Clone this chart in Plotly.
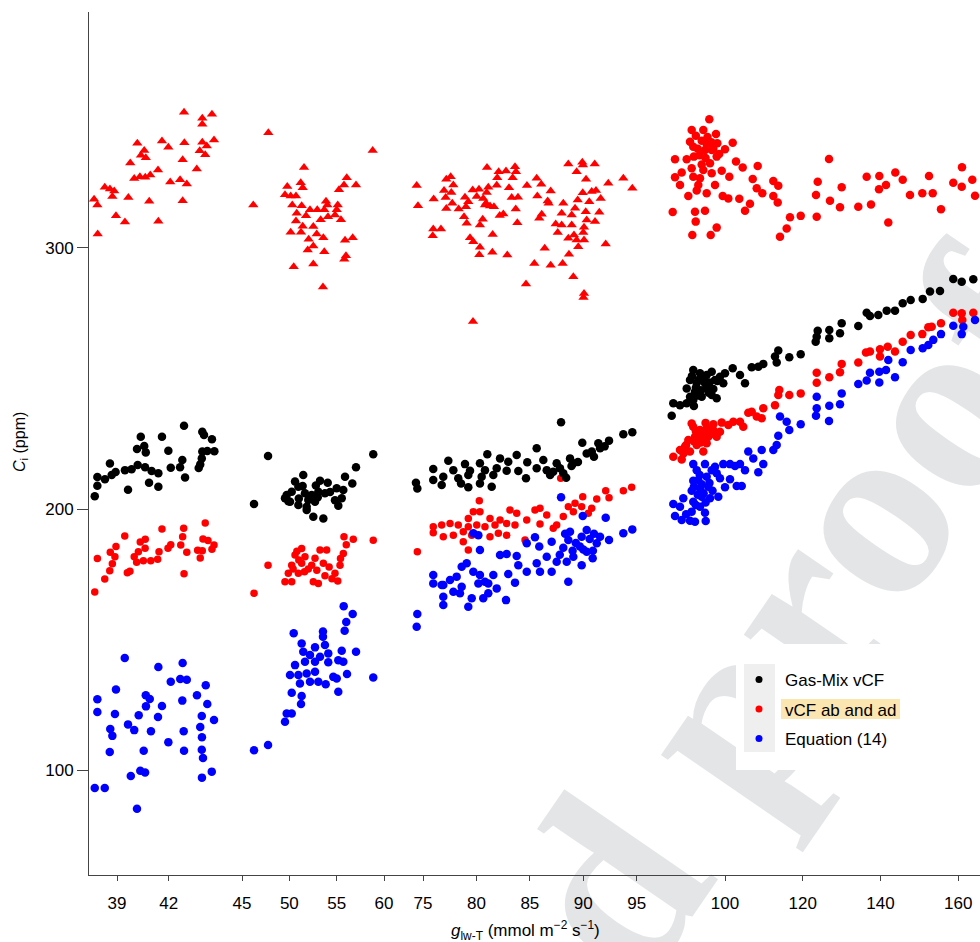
import plotly.graph_objects as go

# ---------------- data ----------------
# Gas-Mix vCF (black)
GM1_X = [42.89,40.38,41.61,43.95,44.05,44.51,40.16,40.58,40.67,41.98,43.95,44.24,44.65,42.79,43.92,38.59,39.46,39.85,40.20,40.63,41.01,41.40,42.12,42.66,43.74,43.83,37.86,38.30,38.69,38.92,42.95,37.86,39.64,40.86,41.40,37.71]
GM1_Y = [231.9,227.7,227.7,229.6,228.4,226.7,223.0,224.1,221.7,222.3,222.0,222.2,222.1,218.8,219.4,217.4,214.9,215.2,216.9,216.0,214.6,213.7,215.8,216.0,215.7,217.1,212.3,211.4,213.0,214.2,212.1,208.9,207.4,210.1,208.5,204.9]
GM2_X = [47.75,58.86,57.04,46.27,51.47,50.60,50.95,53.24,54.05,55.88,56.65,49.72,50.25,51.65,52.36,53.06,53.76,55.70,54.82,55.53,50.07,50.95,51.83,52.71,55.17,49.54,52.53,53.59,51.83,51.0,52.0,53.0,54.3,51.4,52.8,55.0,49.9]
GM2_Y = [220.3,221.0,216.0,201.9,213.0,210.5,208.5,210.8,210.1,212.4,209.8,205.4,206.6,206.0,205.4,206.6,206.0,207.3,203.4,204.1,202.8,201.5,200.9,202.8,201.3,204.1,197.0,196.4,199.6,204.0,203.5,204.5,206.5,208.8,209.0,208.0,203.0]
GM3_X = [87.92,93.75,94.59,92.41,89.91,91.41,85.64,81.02,83.77,82.21,77.37,78.93,80.33,82.98,84.76,86.26,87.51,88.76,90.32,91.57,75.96,77.84,79.40,80.80,81.90,82.83,83.92,85.64,86.58,87.82,89.07,75.96,76.90,78.30,79.24,80.49,81.58,84.64,87.19,88.13,74.34,74.47,76.75,79.24,81.43,78.56,80.33,88.9,89.5,90.8,91.0,92.0,86.9,88.4]
GM3_Y = [233.2,228.6,229.4,226.2,225.4,225.2,223.3,221.0,220.7,219.4,218.5,217.2,217.5,218.1,217.9,218.8,217.5,219.4,221.3,223.3,215.3,214.9,214.7,214.9,215.6,214.7,214.6,215.6,214.9,215.6,217.5,211.1,212.4,211.8,213.0,212.4,213.0,211.8,214.3,213.7,210.1,207.9,209.2,208.3,208.5,209.8,209.8,216.5,218.0,222.0,220.0,224.0,213.0,212.0]
GM4_X = [158.73,160.90,163.88,155.31,152.74,150.86,147.77,145.72,143.74,141.60,139.44,136.45,137.30,134.29,130.02,129.59,126.83,126.83,123.85,123.59,123.33,119.48,116.54,113.71,112.86,113.30,109.85,108.57,106.87,105.15,103.86,101.98,100.00,98.71,96.58,95.29,93.57,91.84,97.43,94.85,92.72,91.00,90.15,92.28,95.29,96.58,97.86,94.01,91.00,90.15,88.42,86.70,86.29,91.84,93.13,99.56,92.5,93.8,94.5,96.0,97.0,93.0,95.8,91.5,98.0,92.0]
GM4_Y = [288.1,287.1,288.0,283.5,283.3,280.5,280.1,278.8,276.0,276.0,274.3,275.2,273.9,270.1,271.2,267.3,268.6,265.4,268.3,266.0,264.1,259.3,258.1,260.7,258.4,256.1,255.6,254.5,254.3,248.2,251.3,253.9,252.0,250.7,252.6,251.3,252.0,253.3,249.4,248.2,248.2,249.4,246.2,244.9,246.2,243.7,242.4,243.0,243.0,240.5,239.8,240.5,235.7,241.8,249.4,248.2,246.5,245.5,250.0,248.5,246.0,243.5,244.5,251.0,249.0,239.5]

# vCF ab and ad (red circles)
VC1_X = [44.12,41.61,42.87,39.45,40.64,40.35,42.81,43.99,44.28,42.12,41.96,42.70,44.63,38.94,40.63,40.24,41.44,38.61,43.05,43.68,43.95,44.51,38.88,40.00,37.86,40.53,40.96,41.36,43.83,40.14,38.73,38.58,39.75,39.60,42.89,38.29,37.71]
VC1_Y = [194.6,192.3,192.6,189.7,188.4,187.4,189.4,188.5,187.9,186.3,185.0,186.2,186.2,185.6,185.0,183.6,183.6,183.4,183.4,184.2,184.0,184.6,181.7,181.7,181.0,180.2,180.2,180.8,181.2,179.6,179.0,176.4,176.2,175.6,175.2,173.2,168.2]
VC2_X = [55.77,56.75,58.86,56.01,47.75,46.27,51.30,53.24,53.94,50.60,51.65,52.71,55.70,50.25,51.30,52.36,53.59,55.35,49.89,50.95,53.76,54.82,49.54,50.25,52.53,53.06,55.11,51.0,52.0,51.6,50.4,52.9,54.2,50.8,55.4,54.5]
VC2_Y = [189.4,188.4,188.0,186.3,178.5,167.7,184.9,184.3,184.3,182.4,181.7,181.1,183.0,178.5,179.2,178.5,179.2,178.5,175.4,175.4,174.4,175.4,172.1,172.1,172.1,171.5,172.4,180.5,177.0,176.0,177.0,176.5,177.8,183.8,181.0,173.3]
VC3_X = [94.53,93.75,92.10,92.41,91.26,89.95,87.89,89.23,89.85,88.60,90.79,90.47,89.07,88.13,87.51,85.95,85.48,86.58,85.95,87.19,84.71,83.77,83.14,82.21,82.83,83.61,81.74,81.27,80.27,80.33,79.71,79.24,80.03,80.80,79.24,78.30,77.53,76.75,75.96,75.96,76.90,77.84,78.77,79.56,81.27,82.05,82.83,78.77,79.24,74.47,84.55]
VC3_Y = [208.3,207.0,207.0,204.3,203.8,204.7,211.8,202.2,200.9,200.9,200.3,198.4,199.0,197.1,193.9,200.3,199.6,197.7,194.3,192.6,195.8,198.4,199.6,195.8,194.5,193.9,193.9,196.4,203.2,199.0,199.0,196.4,193.9,193.2,193.2,193.9,194.5,193.9,193.2,190.9,189.4,190.0,191.3,190.0,189.4,190.7,190.0,187.5,184.3,183.6,188.1]
VC4_X = [163.88,160.90,158.73,161.05,155.57,153.18,152.30,150.76,147.77,145.72,143.74,141.86,139.88,137.30,136.27,139.88,134.29,130.02,129.59,126.83,123.59,123.59,119.48,116.54,113.97,113.71,112.86,109.85,108.16,106.87,105.99,109.44,103.86,102.14,100.85,99.15,104.71,98.71,96.99,95.29,93.57,91.84,91.43,97.86,95.70,94.01,92.28,90.56,95.29,92.72,89.71,91.00,88.42,86.70,88.86,94.42,93.0,94.6,96.2,92.0,93.8,90.0,95.0,97.0,92.5,89.3]
VC4_Y = [275.2,275.0,275.2,272.4,271.2,269.8,269.6,267.0,266.7,264.1,260.3,262.2,261.2,260.3,260.0,258.4,256.1,255.6,252.4,250.5,252.2,248.4,244.3,243.7,245.6,243.7,239.8,238.6,235.4,237.3,236.9,234.8,233.4,233.4,232.2,233.1,231.5,229.6,230.3,230.9,230.3,231.5,232.8,227.7,227.7,227.1,227.7,226.4,225.2,224.5,223.9,222.0,222.6,220.0,219.0,222.0,228.5,229.0,228.6,226.0,225.5,224.5,233.0,232.5,229.9,221.3]
# red circles, upper group (high conductance)
RU_X = [95.96,91.43,94.42,97.68,91.00,94.01,95.29,98.02,101.98,91.84,94.85,96.58,100.00,97.86,87.14,90.15,102.83,96.14,104.55,108.41,91.43,94.42,99.15,88.86,87.14,91.84,93.57,96.58,101.11,107.13,112.43,113.71,88.42,97.43,93.13,108.16,109.60,90.56,92.72,95.29,99.41,100.85,103.68,112.43,113.56,106.43,105.15,86.54,92.28,94.85,92.46,116.72,119.48,115.87,114.15,91.59,96.32,97.86,126.76,123.85,123.41,130.02,127.01,123.59,129.59,134.29,136.45,137.56,139.70,141.42,139.62,142.01,143.81,145.72,147.59,150.76,152.48,153.44,155.57,158.73,160.97,160.90,163.62,164.32,92.5,93.0,95.5,96.5,93.5,95.0,97.0,92.0,94.0,98.5]
RU_Y = [349.3,345.2,345.2,343.7,340.7,341.1,339.8,340.1,340.3,338.8,337.5,337.5,337.8,335.0,334.0,334.0,333.1,332.5,330.8,331.4,330.5,329.9,329.6,328.9,327.1,327.3,326.7,328.6,327.3,326.4,325.7,323.8,324.1,324.1,324.1,322.9,321.0,319.9,322.0,321.0,319.9,319.0,318.9,319.9,317.4,316.9,314.3,313.8,313.9,314.3,310.1,311.8,312.3,307.5,304.3,305.0,305.0,307.8,334.1,325.4,320.3,323.3,318.1,312.0,315.6,315.8,327.3,316.7,327.6,324.1,322.5,309.8,328.9,326.1,320.3,321.0,327.6,321.0,314.8,325.0,330.9,323.5,326.1,320.0,343.0,338.0,342.5,340.5,335.5,334.5,338.0,335.0,332.0,336.0]

# red triangles
TR1_X = [42.89,43.95,44.51,43.95,40.18,41.61,42.91,43.95,44.63,41.98,40.58,40.39,40.67,43.80,44.21,44.12,42.81,39.77,41.38,43.63,40.00,40.33,40.64,40.93,42.66,42.09,43.05,38.29,38.59,38.84,38.73,39.66,40.87,42.81,37.67,37.86,38.94,39.46,41.40,37.88]
TR1_Y = [352.0,349.7,351.2,347.4,340.1,341.0,340.3,340.5,341.4,338.6,337.3,335.5,334.6,337.2,339.1,335.7,333.8,332.6,329.9,330.3,326.6,327.3,327.1,328.0,326.1,325.3,324.5,323.3,322.6,321.8,319.7,319.3,317.9,318.1,318.7,316.5,312.3,310.0,310.2,305.4]
TR2_X = [47.78,46.19,51.55,58.80,49.78,51.20,51.41,56.06,55.77,57.04,55.24,49.54,50.14,50.70,53.87,50.31,51.30,52.18,52.95,53.69,54.01,55.11,55.00,50.78,51.76,53.31,54.08,54.82,55.45,50.70,51.41,52.53,50.14,51.23,52.89,53.59,52.04,55.88,56.69,52.53,51.94,53.69,55.98,55.80,50.46,52.53,53.55]
TR2_Y = [344.1,316.5,330.8,337.3,323.6,325.0,323.1,326.9,324.1,324.1,322.3,320.4,319.9,319.9,317.9,316.5,316.2,314.6,314.6,314.6,316.5,316.5,314.6,313.3,312.3,310.8,312.0,312.6,310.8,310.3,308.3,308.2,306.0,306.0,305.4,303.9,303.3,303.0,303.9,300.8,299.2,298.6,297.0,295.7,292.8,293.9,285.1]
TR3_X = [74.41,74.53,76.00,75.96,76.68,75.91,77.18,77.59,76.97,77.84,
         77.65,77.12,77.74,77.18,78.34,78.93,79.65,80.24,79.24,80.03,
         79.02,78.84,79.09,80.33,80.59,79.40,79.71,80.33,80.27,81.49,
         81.52,80.99,82.08,82.77,81.95,83.61,83.70,83.39,81.90,81.11,
         80.96,83.05,80.64,80.80,81.27,81.64,80.90,83.30,83.89,83.68,
         82.52,82.18,83.83,82.89,84.73,85.64,86.07,86.95,85.70,86.67,
         86.76,86.11,85.88,86.39,85.42,86.95,84.64,88.60,89.38,89.91,
         89.97,91.07,90.26,89.95,90.79,91.19,91.63,90.56,89.48,89.23,
         90.23,91.50,88.13,87.98,88.92,87.42,87.98,88.92,90.32,91.10,
         90.07,90.00,87.61,88.60,89.13,89.38,89.53,90.07,88.66,88.07,
         89.07,90.07,92.34,93.75,94.59,92.10,79.68,90.02]
TR3_Y = [323.9,316.2,318.8,307.3,307.3,304.7,326.3,327.3,322.0,324.1,
         321.3,319.3,317.1,315.1,314.9,319.4,322.2,322.5,317.7,319.7,
         315.8,312.0,309.5,308.8,311.0,303.9,302.4,300.3,297.4,298.4,
         305.2,330.8,329.2,329.5,326.9,331.1,329.2,326.9,324.0,323.3,
         321.3,323.1,319.0,316.5,316.1,315.8,317.1,319.3,319.4,314.9,
         313.0,312.4,309.7,297.3,323.9,326.7,324.4,321.8,319.9,318.0,
         317.1,312.9,311.4,299.9,294.1,293.4,286.2,332.2,329.2,332.8,
         331.8,332.2,326.3,321.2,321.6,322.0,319.0,317.7,318.4,315.2,
         313.9,313.7,317.1,313.3,312.6,309.2,308.8,308.8,310.7,310.1,
         307.9,305.9,305.9,303.7,305.0,303.1,300.5,303.1,297.6,294.1,
         289.0,282.6,324.8,326.7,322.9,301.5,271.8,281.0]

# Equation (14) (blue)
EQ1_X = [39.45,41.40,42.81,42.12,42.67,43.05,44.15,38.94,37.86,40.67,40.90,43.64,42.79,44.24,40.68,41.61,37.86,38.88,40.26,41.38,43.92,44.63,39.64,40.00,38.61,38.73,40.97,42.87,43.83,43.93,41.98,38.58,40.55,42.89,43.92,43.99,40.35,40.63,39.80,44.50,43.93,37.71,38.29,40.16]
EQ1_Y = [142.9,139.5,141.0,133.8,134.9,134.6,132.5,130.9,127.1,128.7,127.2,128.7,126.6,125.3,124.4,124.5,122.2,121.5,121.0,120.3,120.7,119.2,117.5,115.3,115.7,113.1,114.9,114.9,116.5,112.6,110.7,106.9,107.4,107.4,107.8,104.6,99.7,99.1,97.7,99.4,97.1,93.1,93.1,85.2]
EQ2_X = [55.74,56.69,56.01,55.84,50.46,53.55,53.55,51.30,52.71,53.76,51.47,52.18,53.24,54.11,55.53,57.04,51.65,52.71,54.11,55.17,55.70,50.60,50.07,50.95,51.83,52.71,54.64,55.00,56.09,58.86,51.12,52.18,53.06,53.84,50.25,51.30,55.17,51.23,49.72,50.25,49.54,47.75,46.27]
EQ2_Y = [162.8,159.8,156.7,153.4,152.4,153.1,151.1,148.5,147.0,147.9,145.3,144.1,143.4,144.7,145.7,145.3,141.5,141.5,141.3,142.1,141.5,140.2,136.4,136.4,137.0,137.7,135.7,135.1,136.8,135.5,133.2,133.8,133.8,132.9,129.6,128.4,130.0,125.3,121.7,121.7,118.5,109.6,107.6]
EQ3_X = [87.92,89.95,92.10,94.59,93.75,92.41,91.57,91.26,90.32,89.85,88.76,88.60,89.69,90.32,90.88,89.85,89.07,88.13,88.45,87.51,87.04,85.95,84.71,86.58,85.64,85.88,85.48,84.71,87.04,88.60,82.83,82.21,83.77,83.92,82.98,83.61,81.58,81.11,81.90,82.77,80.33,80.18,79.71,79.09,78.62,79.71,80.33,80.80,80.18,81.11,80.64,79.56,79.24,78.62,78.15,77.53,76.90,77.84,76.90,76.90,75.96,75.96,76.75,78.46,74.47,74.41,89.3,90.0,90.6,89.0,91.0,88.3,90.9,87.8]
EQ3_Y = [204.5,197.3,196.7,192.2,190.7,188.1,189.4,186.9,192.0,189.4,191.3,188.1,185.6,183.6,181.1,178.5,181.7,185.2,179.8,179.8,176.0,176.0,176.0,181.7,179.2,185.6,189.2,186.9,187.5,172.1,182.8,182.4,182.0,178.5,175.1,171.8,174.7,171.5,169.6,165.1,184.3,190.0,190.7,179.2,177.9,176.0,174.7,172.1,171.5,167.7,165.8,165.8,162.6,170.2,174.1,172.8,170.9,168.3,166.4,163.2,174.7,171.5,170.9,167.7,159.8,154.9,187.0,184.5,188.5,184.0,190.5,190.5,184.0,182.5]
EQ4_X = [164.32,161.31,158.73,160.90,155.57,153.59,152.30,150.86,147.77,145.72,143.74,142.01,141.42,139.70,139.70,137.30,136.45,134.29,130.02,129.59,126.83,126.76,123.59,123.59,123.41,119.48,116.54,115.87,114.15,113.71,113.30,112.43,109.44,109.85,108.57,107.28,105.99,105.15,103.86,102.57,101.29,99.56,104.30,103.01,101.29,100.00,98.71,97.86,97.43,96.58,94.85,91.84,92.72,95.29,93.13,91.84,95.70,93.57,91.43,98.28,96.14,94.01,91.84,89.27,86.70,88.42,93.57,94.85,91.43,87.14,88.86,91.00,92.28,95.03,93.0,94.5,92.0,96.0,93.5,95.0,92.5,90.0,96.8,94.0]
EQ4_Y = [272.4,269.8,270.2,267.0,267.0,264.8,262.8,261.6,260.9,256.2,250.5,257.1,253.3,252.6,248.5,252.2,249.2,247.9,244.3,240.1,239.6,233.7,243.0,238.6,235.7,232.5,230.3,233.4,235.4,228.1,224.5,222.6,222.6,217.2,214.1,219.4,222.0,214.9,217.2,216.5,217.2,217.2,208.8,208.8,211.4,208.3,211.8,213.7,216.2,214.9,217.2,217.2,214.9,212.4,211.1,210.8,208.5,207.9,207.0,204.7,204.1,204.7,202.8,204.1,201.9,200.9,200.9,198.6,199.0,197.3,195.8,195.5,195.1,195.4,205.5,206.0,208.5,210.0,213.0,202.5,201.5,198.0,207.0,209.5]

SERIES_NAMES = ["Gas-Mix vCF", "vCF ab and ad", "Equation (14)"]
SERIES_COLORS = ["#000000", "#ff0000", "#0000ff"]

# broken x axis: tick values per segment
SEG_TICKS = [[39, 42], [45, 50, 55, 60], [75, 80, 85, 90, 95], [100, 120, 140, 160]]
Y_TICKS = [100, 200, 300]
WATERMARK = "ed proof"

# ---------------- figure ----------------
W, H = 980, 942
ML, MR, MT, MB = 89, 0, 12, 67
PW, PH = W - ML - MR, H - MT - MB


def pxx(x):
    return (x - ML) / PW


def pxy(y):
    return (H - MB - y) / PH


# segment pixel bounds and data ranges
SEG_PIX = [(89, 232), (232, 404), (404, 652), (652, 980)]
SEG_RANGE = [(37.375, 45.674), (43.944, 62.107), (73.222, 96.432), (81.219, 165.603)]
AXES = ["x", "x2", "x3", "x4"]

fig = go.Figure()

# legend-only entries
for nm, col in zip(SERIES_NAMES, SERIES_COLORS):
    fig.add_trace(go.Scatter(x=[None], y=[None], mode="markers", name=nm,
                             legendgroup=nm, showlegend=True,
                             marker=dict(color=col, size=7, line=dict(width=0))))


def add(xs, ys, ax, color, group, size=8.5, symbol="circle"):
    fig.add_trace(go.Scatter(x=xs, y=ys, xaxis=ax, yaxis="y", mode="markers",
                             legendgroup=group, showlegend=False, hoverinfo="skip",
                             marker=dict(color=color, size=size, symbol=symbol,
                                         line=dict(width=0))))


RED, BLK, BLU = SERIES_COLORS[1], SERIES_COLORS[0], SERIES_COLORS[2]
gR, gK, gB = SERIES_NAMES[1], SERIES_NAMES[0], SERIES_NAMES[2]

# red (triangles + circles)
for xs, ys, ax in [(TR1_X, TR1_Y, "x"), (TR2_X, TR2_Y, "x2"), (TR3_X, TR3_Y, "x3")]:
    add(xs, ys, ax, RED, gR, size=9, symbol="triangle-up")
for xs, ys, ax in [(VC1_X, VC1_Y, "x"), (VC2_X, VC2_Y, "x2"), (VC3_X, VC3_Y, "x3")]:
    add(xs, ys, ax, RED, gR, size=7.5)
add(VC4_X, VC4_Y, "x4", RED, gR, size=8.5)
add(RU_X, RU_Y, "x4", RED, gR, size=8.5)
# black
for xs, ys, ax in [(GM1_X, GM1_Y, "x"), (GM2_X, GM2_Y, "x2"), (GM3_X, GM3_Y, "x3"), (GM4_X, GM4_Y, "x4")]:
    add(xs, ys, ax, BLK, gK, size=8.5)
# blue
for xs, ys, ax in [(EQ1_X, EQ1_Y, "x"), (EQ2_X, EQ2_Y, "x2"), (EQ3_X, EQ3_Y, "x3"), (EQ4_X, EQ4_Y, "x4")]:
    add(xs, ys, ax, BLU, gB, size=8.5)

AX_COL = "#444444"
FONT = "Liberation Sans, Arial, Helvetica, sans-serif"

layout = dict(
    width=W, height=H,
    margin=dict(l=ML, r=MR, t=MT, b=MB),
    paper_bgcolor="white", plot_bgcolor="rgba(0,0,0,0)",
    font=dict(family=FONT, size=17, color="black"),
    showlegend=True,
    legend=dict(x=pxx(733), y=pxy(662), xanchor="left", yanchor="top",
                bgcolor="rgba(0,0,0,0)", borderwidth=0, itemwidth=42,
                traceorder="grouped", tracegroupgap=4.4,
                font=dict(family=FONT, size=17, color="black")),
    yaxis=dict(range=[59.8, 390.4], tickvals=Y_TICKS, ticks="outside", ticklen=11,
               tickcolor=AX_COL, showline=True, linecolor=AX_COL, linewidth=1,
               showgrid=False, zeroline=False, anchor="x",
               tickfont=dict(family=FONT, size=17, color="black")),
)
for i, ax in enumerate(AXES):
    key = "xaxis" if i == 0 else "xaxis%d" % (i + 1)
    p0, p1 = SEG_PIX[i]
    layout[key] = dict(domain=[pxx(p0), pxx(p1)], range=list(SEG_RANGE[i]),
                       tickvals=SEG_TICKS[i], ticks="outside", ticklen=5,
                       tickcolor=AX_COL, showline=True, linecolor=AX_COL, linewidth=1,
                       showgrid=False, zeroline=False, anchor="y",
                       ticklabelstandoff=8,
                       tickfont=dict(family=FONT, size=17, color="black"))
fig.update_layout(**layout)

# axis titles
fig.add_annotation(xref="paper", yref="paper", x=pxx(525), y=pxy(930),
                   text="<i>g</i><sub>lw-T</sub> (mmol m<sup>−2</sup> s<sup>−1</sup>)",
                   showarrow=False, font=dict(family=FONT, size=17, color="black"),
                   xanchor="center", yanchor="middle")
fig.add_annotation(xref="paper", yref="paper", x=pxx(20), y=pxy(442),
                   text="<i>C</i><sub>i</sub> (ppm)", textangle=-90,
                   showarrow=False, font=dict(family=FONT, size=16, color="black"),
                   xanchor="center", yanchor="middle")

# watermark (behind data)
fig.add_shape(type="line", xref="paper", yref="paper", layer="below",
              x0=pxx(631), y0=pxy(1059), x1=pxx(1085), y1=pxy(399),
              line=dict(width=0, color="rgba(0,0,0,0)"),
              label=dict(text=WATERMARK, textposition="middle", yanchor="bottom",
                         font=dict(family="Liberation Serif, Times New Roman, serif",
                                   size=256, color="#e4e5e7", weight="bold")))

# legend backing
fig.add_shape(type="rect", xref="paper", yref="paper", layer="above",
              x0=pxx(736), x1=pxx(905), y0=pxy(770), y1=pxy(644),
              fillcolor="white", line=dict(width=0))
fig.add_shape(type="rect", xref="paper", yref="paper", layer="above",
              x0=pxx(744), x1=pxx(775), y0=pxy(752), y1=pxy(664),
              fillcolor="#efefef", line=dict(width=0))
fig.add_shape(type="rect", xref="paper", yref="paper", layer="above",
              x0=pxx(781), x1=pxx(900), y0=pxy(719), y1=pxy(699),
              fillcolor="#fbe5b0", line=dict(width=0))

fig.write_html("out.html")
